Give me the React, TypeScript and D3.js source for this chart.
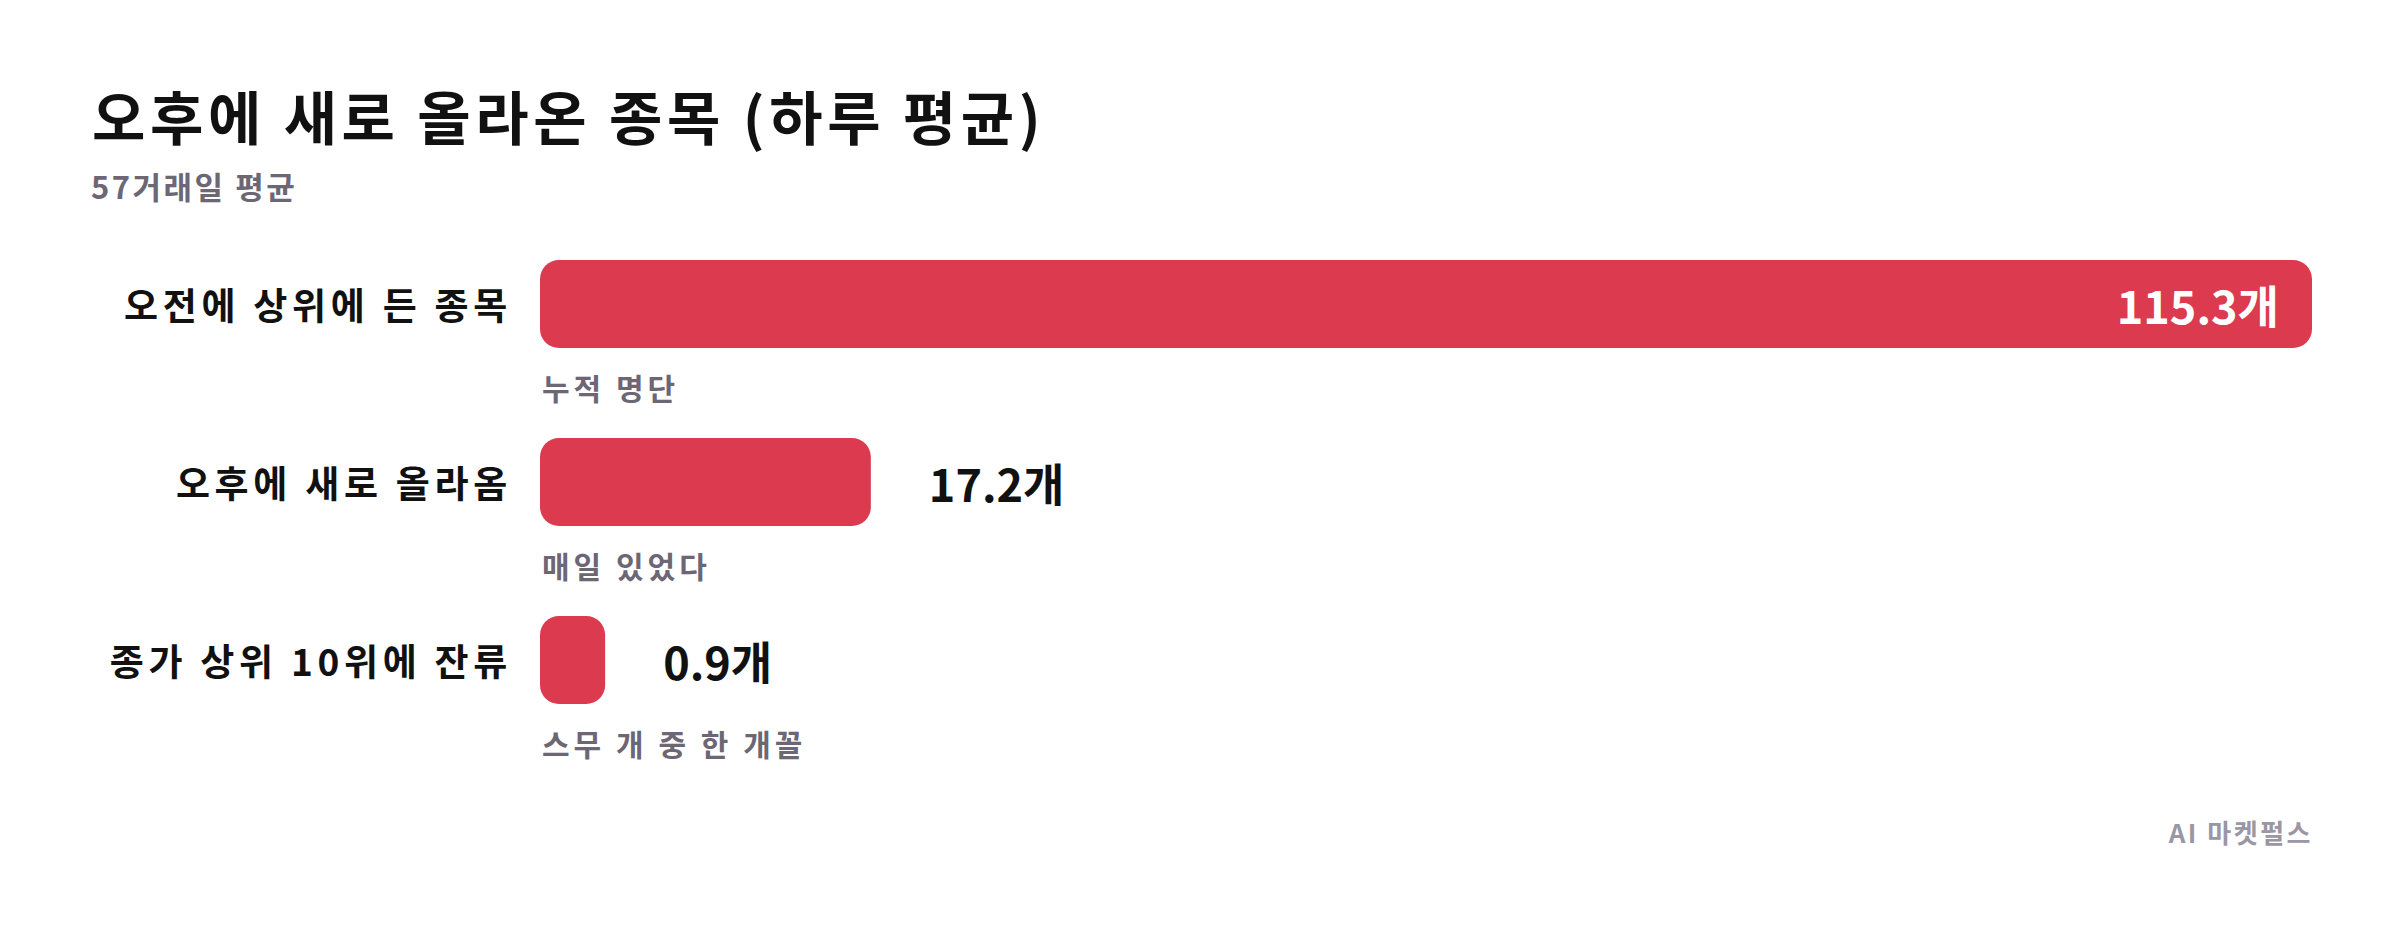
import React, { useRef, useEffect } from "react";
import * as d3 from "d3";

const categories = ["오전에 상위에 든 종목", "오후에 새로 올라옴", "종가 상위 10위에 잔류"];
const values = [115.3, 17.2, 0.9];
const notes = ["누적 명단", "매일 있었다", "스무 개 중 한 개꼴"];
const unit = "개";

const titleText = "오후에 새로 올라온 종목 (하루 평균)";
const subtitleText = "57거래일 평균";
const sourceText = "AI 마켓펄스";

const App: React.FC = () => {
  const svgRef = useRef<SVGSVGElement | null>(null);

  useEffect(() => {
    const svg = d3.select(svgRef.current);
    svg.selectAll("*").remove();

    const W = 2400;
    const H = 930;
    const font = "'Noto Sans CJK KR', 'Noto Sans', sans-serif";
    const red = "#db3a4f";
    const gray = "#6d6674";
    const left = 540;

    svg.attr("width", W).attr("height", H);
    svg.append("rect").attr("width", W).attr("height", H).attr("fill", "#fff");

    // title block
    svg
      .append("text")
      .attr("x", 92)
      .attr("y", 140)
      .attr("font-family", font)
      .attr("font-size", 58)
      .attr("font-weight", 700)
      .attr("letter-spacing", 4.6)
      .attr("fill", "#111")
      .text(titleText);

    svg
      .append("text")
      .attr("x", 91)
      .attr("y", 199)
      .attr("font-family", font)
      .attr("font-size", 31)
      .attr("font-weight", 700)
      .attr("letter-spacing", 2.5)
      .attr("fill", gray)
      .text(subtitleText);

    // scales
    const y = d3
      .scaleBand<string>()
      .domain(categories)
      .range([260, 704])
      .paddingInner(90 / 178)
      .paddingOuter(0);

    const x = d3
      .scalePow()
      .exponent(0.95)
      .domain([0, d3.max(values) as number])
      .range([48, 2312 - left]);

    const maxV = d3.max(values) as number;

    const rows = svg
      .append("g")
      .selectAll("g")
      .data(categories)
      .enter()
      .append("g")
      .attr("transform", (d) => `translate(0,${y(d)})`);

    const bh = y.bandwidth();

    rows
      .append("rect")
      .attr("x", left)
      .attr("y", 0)
      .attr("width", (d, i) => x(values[i]))
      .attr("height", bh)
      .attr("rx", 19)
      .attr("fill", red);

    rows
      .append("text")
      .attr("x", left - 28)
      .attr("y", bh / 2)
      .attr("text-anchor", "end")
      .attr("dominant-baseline", "central")
      .attr("font-family", font)
      .attr("font-size", 37)
      .attr("font-weight", 700)
      .attr("letter-spacing", 4.7)
      .attr("fill", "#111")
      .text((d) => d);

    rows
      .append("text")
      .attr("x", (d, i) => (values[i] === maxV ? left + x(values[i]) - 33 : left + x(values[i]) + 58))
      .attr("y", bh / 2)
      .attr("text-anchor", (d, i) => (values[i] === maxV ? "end" : "start"))
      .attr("dominant-baseline", "central")
      .attr("font-family", font)
      .attr("font-size", 45)
      .attr("font-weight", 700)
      .attr("fill", (d, i) => (values[i] === maxV ? "#fff" : "#111"))
      .text((d, i) => `${values[i]}${unit}`);

    rows
      .append("text")
      .attr("x", left + 2)
      .attr("y", bh + 39)
      .attr("dominant-baseline", "central")
      .attr("font-family", font)
      .attr("font-size", 30)
      .attr("font-weight", 600)
      .attr("letter-spacing", 4)
      .attr("fill", gray)
      .text((d, i) => notes[i]);

    // source
    svg
      .append("text")
      .attr("x", 2313)
      .attr("y", 831)
      .attr("text-anchor", "end")
      .attr("dominant-baseline", "central")
      .attr("font-family", font)
      .attr("font-size", 26)
      .attr("font-weight", 700)
      .attr("letter-spacing", 2.5)
      .attr("fill", "#9a96a4")
      .text(sourceText);
  }, []);

  return (
    <svg
      ref={svgRef}
      style={{ position: "absolute", left: 0, top: 0, display: "block" }}
    />
  );
};

export default App;
